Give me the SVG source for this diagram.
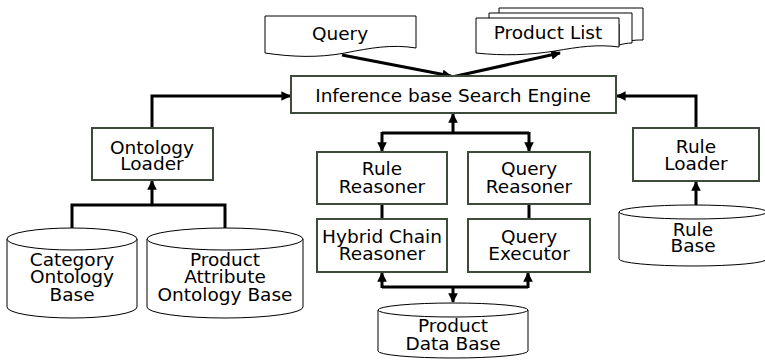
<svg xmlns="http://www.w3.org/2000/svg" width="765" height="360" viewBox="0 0 765 360">
  <style>
    .box { fill: #ffffff; stroke: #3e4a3a; stroke-width: 2; }
    .doc { fill: #ffffff; stroke: #000000; stroke-width: 1; }
    .db { fill: #ffffff; stroke: #000000; stroke-width: 1; }
    .wire { fill: none; stroke: #000000; stroke-width: 3; }
    text { font-family: "DejaVu Sans", Verdana, sans-serif; font-size: 18.5px; fill: #000000; text-anchor: middle; }
  </style>
  <defs>
    <marker id="arrow" viewBox="0 0 10 10" refX="9" refY="5" markerWidth="3.2" markerHeight="3.2" orient="auto" markerUnits="strokeWidth">
      <path d="M0,0 L10,5 L0,10 Z" fill="#000000"/>
    </marker>
  </defs>

  <!-- connectors -->
  <g id="connectors">
    <!-- query document into the engine, engine out to the product list -->
    <line class="wire" x1="342" y1="55" x2="451" y2="76" marker-end="url(#arrow)"/>
    <line class="wire" x1="452" y1="77" x2="560" y2="53" marker-end="url(#arrow)"/>
    <!-- loaders feeding the engine -->
    <polyline class="wire" points="152,128 152,96 290,96" marker-end="url(#arrow)"/>
    <polyline class="wire" points="696,128 696,96 617,96" marker-end="url(#arrow)"/>
    <!-- ontology bases into the ontology loader -->
    <polyline class="wire" points="72,228 72,205 225,205 225,228"/>
    <line class="wire" x1="152" y1="205" x2="152" y2="181" marker-end="url(#arrow)"/>
    <!-- rule base into the rule loader -->
    <line class="wire" x1="696" y1="205" x2="696" y2="182" marker-end="url(#arrow)"/>
    <!-- engine to the reasoners -->
    <line class="wire" x1="453" y1="133" x2="453" y2="114" marker-end="url(#arrow)"/>
    <polyline class="wire" points="382,133 529,133"/>
    <line class="wire" x1="382" y1="132" x2="382" y2="151" marker-end="url(#arrow)"/>
    <line class="wire" x1="529" y1="132" x2="529" y2="151" marker-end="url(#arrow)"/>
    <!-- reasoners to their executors -->
    <line class="wire" x1="382" y1="204" x2="382" y2="219"/>
    <line class="wire" x1="529" y1="204" x2="529" y2="219"/>
    <!-- executors and the product data base -->
    <polyline class="wire" points="382,287 528,287"/>
    <line class="wire" x1="382" y1="288" x2="382" y2="273" marker-end="url(#arrow)"/>
    <line class="wire" x1="528" y1="288" x2="528" y2="273" marker-end="url(#arrow)"/>
    <line class="wire" x1="453" y1="286" x2="453" y2="302" marker-end="url(#arrow)"/>
  </g>

  <!-- documents -->
  <g id="query">
    <path class="doc" d="M265,16 H416 V48 C392,44 370,48 345,53 C318,58 292,57 265,53 Z"/>
    <text x="340" y="40">Query</text>
  </g>
  <g id="product-list">
    <path class="doc" d="M499,8 H643 V40 C638,40 634,40 630,41 L630,20 H499 Z"/>
    <path class="doc" d="M489,13 H632 V43 C627,43 623,44 619,45 L619,24 H489 Z"/>
    <path class="doc" d="M476,18 H619 V47 C597,44 578,47 555,51 C530,55 504,56 476,53 Z"/>
    <text x="548" y="39">Product List</text>
  </g>

  <!-- engine -->
  <g id="engine">
    <rect class="box" x="291" y="76" width="325" height="37"/>
    <text x="453" y="102">Inference base Search Engine</text>
  </g>

  <!-- loaders -->
  <g id="ontology-loader">
    <rect class="box" x="92" y="128" width="121" height="52"/>
    <text x="152" y="154">Ontology</text>
    <text x="152" y="170">Loader</text>
  </g>
  <g id="rule-loader">
    <rect class="box" x="633" y="128" width="126" height="53"/>
    <text x="696" y="153">Rule</text>
    <text x="696" y="170">Loader</text>
  </g>

  <!-- reasoners -->
  <g id="rule-reasoner">
    <rect class="box" x="317" y="152" width="130" height="52"/>
    <text x="382" y="175">Rule</text>
    <text x="382" y="193">Reasoner</text>
  </g>
  <g id="query-reasoner">
    <rect class="box" x="468" y="152" width="122" height="52"/>
    <text x="529" y="175">Query</text>
    <text x="529" y="193">Reasoner</text>
  </g>
  <g id="hybrid-chain-reasoner">
    <rect class="box" x="317" y="219" width="130" height="53"/>
    <text x="382" y="243">Hybrid Chain</text>
    <text x="382" y="260">Reasoner</text>
  </g>
  <g id="query-executor">
    <rect class="box" x="468" y="219" width="122" height="53"/>
    <text x="529" y="243">Query</text>
    <text x="529" y="260">Executor</text>
  </g>

  <!-- data bases -->
  <g id="category-ontology-base">
    <path class="db" d="M7,239 A65,11 0 0 1 137,239 V307 A65,11 0 0 1 7,307 Z"/>
    <path class="db" d="M7,239 A65,11 0 0 0 137,239" fill="none"/>
    <text x="72" y="266">Category</text>
    <text x="72" y="283">Ontology</text>
    <text x="72" y="301">Base</text>
  </g>
  <g id="product-attribute-ontology-base">
    <path class="db" d="M147,239 A78,11 0 0 1 303,239 V307 A78,11 0 0 1 147,307 Z"/>
    <path class="db" d="M147,239 A78,11 0 0 0 303,239" fill="none"/>
    <text x="225" y="266">Product</text>
    <text x="225" y="283">Attribute</text>
    <text x="225" y="301">Ontology Base</text>
  </g>
  <g id="rule-base">
    <path class="db" d="M619,212 A74,7 0 0 1 767,212 V259 A74,7 0 0 1 619,259 Z"/>
    <path class="db" d="M619,212 A74,7 0 0 0 767,212" fill="none"/>
    <text x="693" y="236">Rule</text>
    <text x="693" y="252">Base</text>
  </g>
  <g id="product-data-base">
    <path class="db" d="M378,310 A75,7 0 0 1 528,310 V351 A75,7 0 0 1 378,351 Z"/>
    <path class="db" d="M378,310 A75,7 0 0 0 528,310" fill="none"/>
    <text x="453" y="332">Product</text>
    <text x="453" y="350">Data Base</text>
  </g>
</svg>
